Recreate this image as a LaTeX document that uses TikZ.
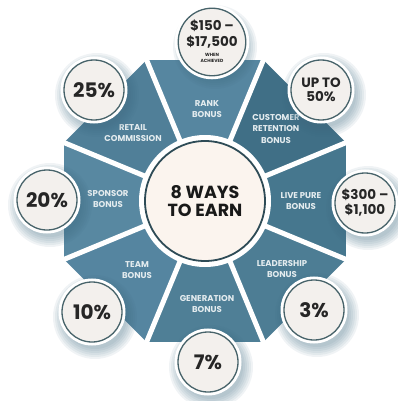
\documentclass[tikz,border=0pt]{standalone}
\usepackage{fontspec}
\setmainfont{Poppins}
\definecolor{segRank}{HTML}{5686A0}
\definecolor{segCust}{HTML}{406F86}
\definecolor{segLive}{HTML}{46778E}
\definecolor{segLead}{HTML}{4D7D94}
\definecolor{segGen}{HTML}{4F7F96}
\definecolor{segTeam}{HTML}{5585A0}
\definecolor{segSpon}{HTML}{5888A1}
\definecolor{segRet}{HTML}{507F98}
\definecolor{cream}{HTML}{F3F0ED}
\definecolor{centercream}{HTML}{FBF4EE}
\definecolor{ringcol}{HTML}{47636A}
\definecolor{centerring}{HTML}{2E4B56}
\definecolor{labelcol}{HTML}{E4ECEF}
\definecolor{txtcol}{HTML}{262626}
\definecolor{shadowcol}{HTML}{3E6A80}
\tikzset{
  seglabel/.style={text=labelcol, align=center, font=\fontsize{8.5}{11.5}\selectfont\bfseries, inner sep=0pt},
  badge/.style={circle, fill=cream, draw=ringcol, line width=1.3pt, minimum size=60pt, inner sep=0pt,
    align=center, text=txtcol, preaction={draw=white, line width=7pt}},
  bigtxt/.style={font=\fontsize{20}{20}\selectfont\bfseries},
  midtxt/.style={font=\fontsize{13.5}{15}\selectfont\bfseries},
}
\begin{document}
\begin{tikzpicture}[x=1pt,y=-1pt]
\useasboundingbox (0,0) rectangle (398,401);
\coordinate (c) at (205,201);
% octagon segments
\foreach \a/\col in {-90/segRank,-45/segCust,0/segLive,45/segLead,90/segGen,135/segTeam,180/segSpon,225/segRet}{
  \fill[\col, shift={(205,201)}] (0,0) -- (\a-22.5:152.6) -- (\a+22.5:152.6) -- cycle;
}
% white gaps
\foreach \a in {-112.5,-67.5,-22.5,22.5,67.5,112.5,157.5,202.5}{
  \draw[white, line width=5pt, shift={(205,201)}] (0,0) -- (\a:165);
}
% centre
\fill[white] (c) circle [radius=66];
\node[circle, fill=centercream, draw=centerring, line width=1.8pt, minimum size=120pt, inner sep=0pt,
  align=center, text=black!90, font=\fontsize{17.5}{18}\selectfont\bfseries] (center) at (c) {8 WAYS\\TO EARN};
% segment labels
\node[seglabel] (lRank) at (207,109) {RANK\\BONUS};
\node[seglabel] (lCust) at (276,129) {CUSTOMER\\RETENTION\\BONUS};
\node[seglabel] (lLive) at (301,201) {LIVE PURE\\BONUS};
\node[seglabel] (lLead) at (282,269) {LEADERSHIP\\BONUS};
\node[seglabel] (lGen) at (207,304) {GENERATION\\BONUS};
\node[seglabel] (lTeam) at (137,270) {TEAM\\BONUS};
\node[seglabel] (lSpon) at (108,199) {SPONSOR\\BONUS};
\node[seglabel] (lRet) at (133,133) {RETAIL\\COMMISSION};
% badge centres
\coordinate (pRank) at (212,42);
\coordinate (pCust) at (321,90);
\coordinate (pLive) at (365,203);
\coordinate (pLead) at (314,310);
\coordinate (pGen) at (208,362);
\coordinate (pTeam) at (92,312);
\coordinate (pSpon) at (47,200);
\coordinate (pRet) at (94,90);
% shadows
\foreach \p in {pRank,pCust,pLive,pLead,pGen,pTeam,pSpon,pRet}{
  \foreach \r in {42,40,38,36,34,32}{
    \fill[shadowcol, opacity=0.08] ([shift={(3,5)}]\p) circle [radius=\r];
  }
}
% badges
\node[badge, midtxt] (bRank) at (pRank) {\$150 –\\[1pt]\$17,500\\[-5pt]{\fontsize{4.5}{5.5}\selectfont\begin{tabular}[t]{@{}c@{}}WHEN\\ACHIEVED\end{tabular}}};
\node[badge, midtxt] (bCust) at (pCust) {UP TO\\[-1pt]50\%};
\node[badge, midtxt] (bLive) at (pLive) {\$300 –\\[0pt]\$1,100};
\node[badge, bigtxt] (bLead) at (pLead) {3\%};
\node[badge, bigtxt] (bGen) at (pGen) {7\%};
\node[badge, bigtxt] (bTeam) at (pTeam) {10\%};
\node[badge, bigtxt] (bSpon) at (pSpon) {20\%};
\node[badge, bigtxt] (bRet) at (pRet) {25\%};
\end{tikzpicture}
\end{document}
